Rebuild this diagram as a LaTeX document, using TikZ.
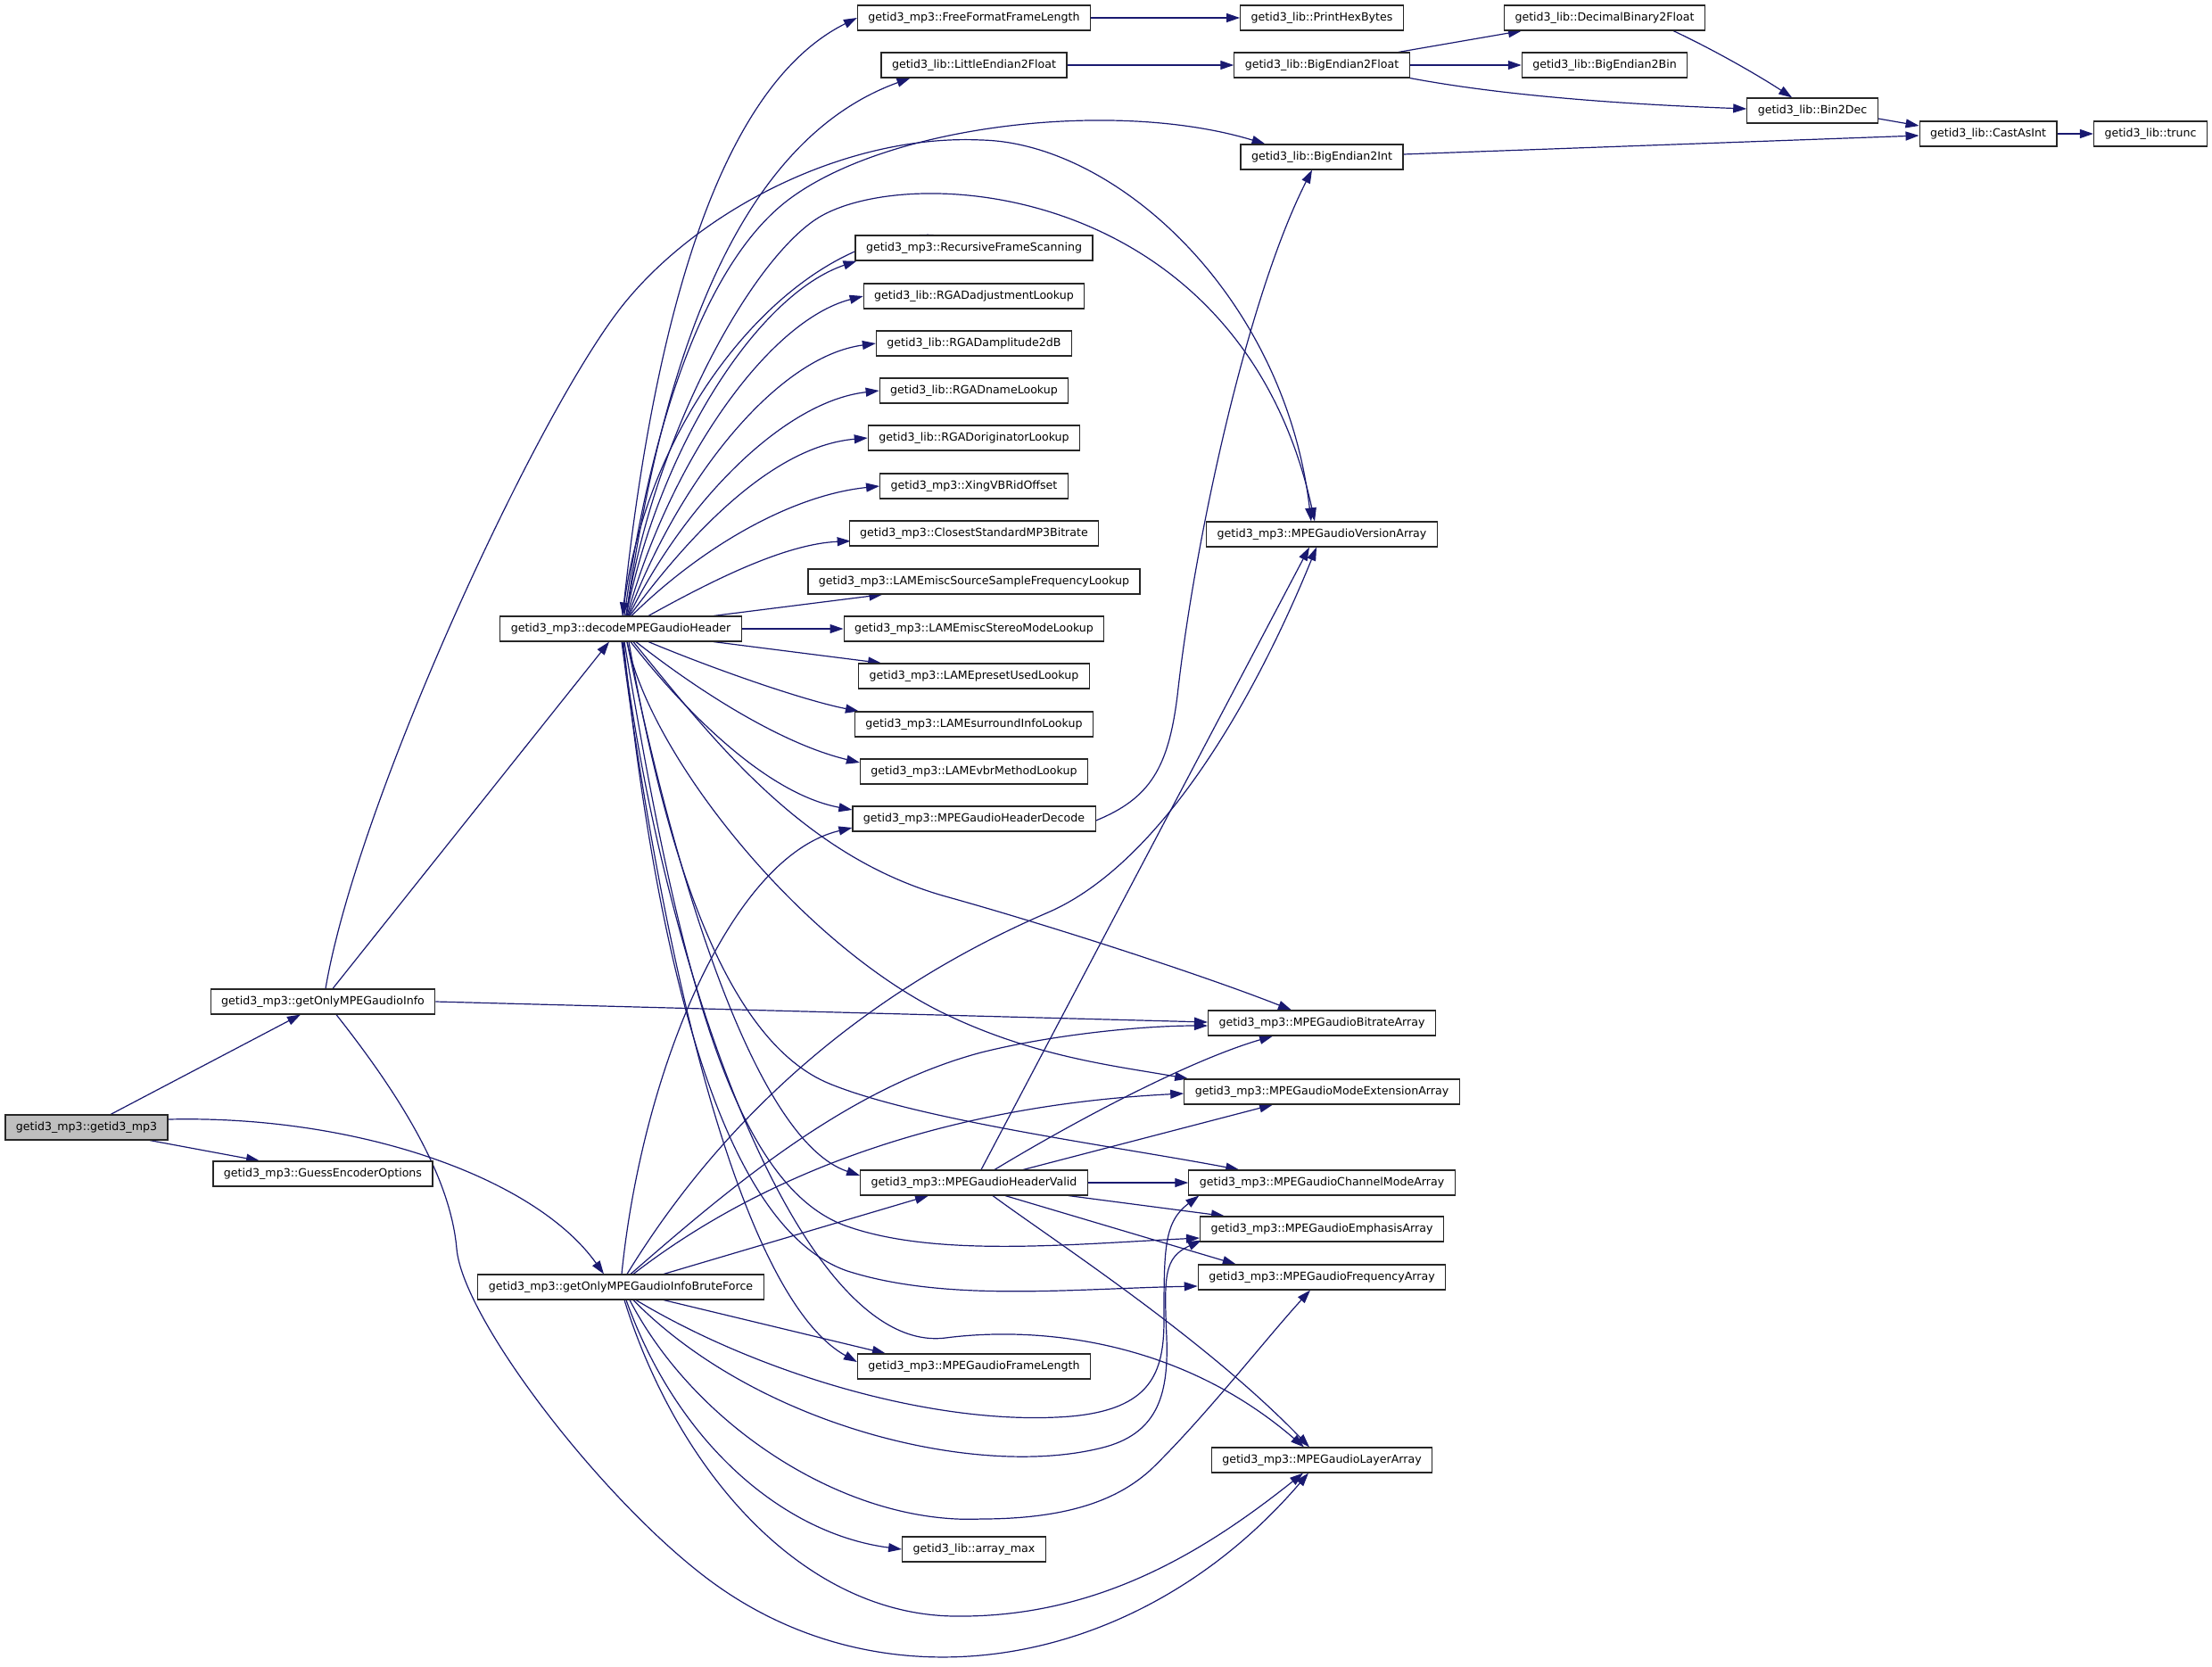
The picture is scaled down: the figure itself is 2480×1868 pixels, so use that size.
\documentclass[tikz,border=0pt]{standalone}
\usepackage{fontspec}
\setmainfont{DejaVu Sans}
\usetikzlibrary{arrows.meta,calc,backgrounds}
\definecolor{edgec}{HTML}{191970}
\definecolor{rootfill}{HTML}{BFBFBF}
\begin{document}
\begin{tikzpicture}[x=1pt,y=-1pt,
  box/.style={draw=black!85, line width=1.1pt, fill=white, rectangle, inner xsep=12pt, inner ysep=0pt,
    minimum height=28pt, font=\fontsize{12.6}{15}\selectfont, text height=9.5pt, text depth=3pt},
  cg/.style={draw=edgec, line width=1.2pt, -{Triangle[length=15pt,width=10pt]}}]
\useasboundingbox (0,0) rectangle (2480,1868);
% nodes
\node[box, fill=rootfill] (root) at (97,1264) {getid3\_mp3::getid3\_mp3};
\node[box] (getonly) at (362,1123) {getid3\_mp3::getOnlyMPEGaudioInfo};
\node[box] (guess) at (362,1316) {getid3\_mp3::GuessEncoderOptions};
\node[box] (dec) at (696,705) {getid3\_mp3::decodeMPEGaudioHeader};
\node[box] (brute) at (696,1443) {getid3\_mp3::getOnlyMPEGaudioInfoBruteForce};
\node[box] (ffl) at (1092,20) {getid3\_mp3::FreeFormatFrameLength};
\node[box] (le2f) at (1092,73) {getid3\_lib::LittleEndian2Float};
\node[box] (rfs) at (1092,278) {getid3\_mp3::RecursiveFrameScanning};
\node[box] (rgadadj) at (1092,332) {getid3\_lib::RGADadjustmentLookup};
\node[box] (rgadamp) at (1092,385) {getid3\_lib::RGADamplitude2dB};
\node[box] (rgadname) at (1092,438) {getid3\_lib::RGADnameLookup};
\node[box] (rgadorig) at (1092,491) {getid3\_lib::RGADoriginatorLookup};
\node[box] (xing) at (1092,545) {getid3\_mp3::XingVBRidOffset};
\node[box] (closest) at (1092,598) {getid3\_mp3::ClosestStandardMP3Bitrate};
\node[box] (lamesrc) at (1092,652) {getid3\_mp3::LAMEmiscSourceSampleFrequencyLookup};
\node[box] (lamestereo) at (1092,705) {getid3\_mp3::LAMEmiscStereoModeLookup};
\node[box] (lamepreset) at (1092,758) {getid3\_mp3::LAMEpresetUsedLookup};
\node[box] (lamesurr) at (1092,812) {getid3\_mp3::LAMEsurroundInfoLookup};
\node[box] (lamevbr) at (1092,865) {getid3\_mp3::LAMEvbrMethodLookup};
\node[box] (hdec) at (1092,918) {getid3\_mp3::MPEGaudioHeaderDecode};
\node[box] (hvalid) at (1092,1326) {getid3\_mp3::MPEGaudioHeaderValid};
\node[box] (framelen) at (1092,1532) {getid3\_mp3::MPEGaudioFrameLength};
\node[box] (arraymax) at (1092,1737) {getid3\_lib::array\_max};
\node[box] (phb) at (1482,20) {getid3\_lib::PrintHexBytes};
\node[box] (be2f) at (1482,73) {getid3\_lib::BigEndian2Float};
\node[box] (be2i) at (1482,176) {getid3\_lib::BigEndian2Int};
\node[box] (version) at (1482,599) {getid3\_mp3::MPEGaudioVersionArray};
\node[box] (bitrate) at (1482,1147) {getid3\_mp3::MPEGaudioBitrateArray};
\node[box] (modeext) at (1482,1224) {getid3\_mp3::MPEGaudioModeExtensionArray};
\node[box] (channel) at (1482,1326) {getid3\_mp3::MPEGaudioChannelModeArray};
\node[box] (emph) at (1482,1378) {getid3\_mp3::MPEGaudioEmphasisArray};
\node[box] (freq) at (1482,1432) {getid3\_mp3::MPEGaudioFrequencyArray};
\node[box] (layer) at (1482,1637) {getid3\_mp3::MPEGaudioLayerArray};
\node[box] (decbin) at (1799,20) {getid3\_lib::DecimalBinary2Float};
\node[box] (be2bin) at (1799,73) {getid3\_lib::BigEndian2Bin};
\node[box] (bin2dec) at (2032,124) {getid3\_lib::Bin2Dec};
\node[box] (castint) at (2229,150) {getid3\_lib::CastAsInt};
\node[box] (trunc) at (2411,150) {getid3\_lib::trunc};
\begin{pgfonlayer}{background}
% root
\draw[cg] ($(root.north)+(27,0)$) -- ($(getonly.south)+(-25,0)$);
\draw[cg] ($(root.south)+(71,0)$) -- ($(guess.north)+(-71,0)$);
\draw[cg] ($(root.east)+(0,-9)$) .. controls (400,1250) and (600,1320) .. ($(brute.north)+(-19,0)$);
% getOnlyMPEGaudioInfo
\draw[cg] ($(getonly.north)+(11,0)$) -- ($(dec.south)+(-13,0)$);
\draw[cg] (getonly.east) -- ($(bitrate.west)+(0,-1)$);
\draw[cg] ($(getonly.south)+(15,0)$) .. controls (450,1230) and (505,1320) .. (512,1400)
   .. controls (519,1480) and (680,1688) .. (800,1775)
   .. controls (1000,1920) and (1280,1870) .. ($(layer.south)+(-15,0)$);
\draw[cg] ($(getonly.north)+(3,0)$) .. controls (400,900) and (604,458) .. (700,340)
   .. controls (786,234) and (950,150) .. (1100,157)
   .. controls (1250,160) and (1440,330) .. ($(version.north)+(-12,0)$);
% decodeMPEGaudioHeader upward
\draw[cg] ($(dec.north)+(4,0)$) .. controls (730,470) and (792,297) .. (880,227)
   .. controls (990,140) and (1250,110) .. ($(be2i.north west)+(28,0)$);
\draw[cg] ($(dec.north)+(6,0)$) .. controls (730,500) and (835,301) .. (913,247)
   .. controls (1010,180) and (1390,200) .. ($(version.north)+(-8,0)$);
\draw[cg] ($(rfs.north west)+(88,0)$) .. controls (900,258) and (730,450) .. ($(dec.north)+(2,0)$);
\draw[cg] ($(dec.north)+(2,0)$) .. controls (730,380) and (800,100) .. (ffl.west);
\draw[cg] ($(dec.north)+(6,0)$) .. controls (740,420) and (820,160) .. ($(le2f.south west)+(33,0)$);
\draw[cg] ($(dec.north)+(6,0)$) .. controls (740,500) and (850,330) .. ($(rfs.south west)+(2,0)$);
\draw[cg] ($(dec.north)+(7,0)$) .. controls (750,520) and (860,360) .. (rgadadj.west);
\draw[cg] ($(dec.north)+(8,0)$) .. controls (760,540) and (870,400) .. (rgadamp.west);
\draw[cg] ($(dec.north)+(9,0)$) .. controls (770,560) and (880,450) .. (rgadname.west);
\draw[cg] ($(dec.north)+(10,0)$) .. controls (780,590) and (870,500) .. (rgadorig.west);
\draw[cg] ($(dec.north)+(12,0)$) .. controls (790,610) and (890,555) .. (xing.west);
\draw[cg] ($(dec.north)+(31,0)$) .. controls (800,650) and (880,610) .. ($(closest.south west)+(2,-6)$);
\draw[cg] ($(dec.north)+(104,0)$) -- ($(lamesrc.south west)+(84,0)$);
\draw[cg] (dec.east) -- (lamestereo.west);
% decodeMPEGaudioHeader downward
\draw[cg] ($(dec.south)+(104,0)$) -- ($(lamepreset.north west)+(26,0)$);
\draw[cg] ($(dec.south)+(31,0)$) .. controls (800,750) and (900,785) .. ($(lamesurr.north west)+(5,0)$);
\draw[cg] ($(dec.south)+(17,0)$) .. controls (790,780) and (880,835) .. ($(lamevbr.west)+(0,-10)$);
\draw[cg] ($(dec.south)+(11,0)$) .. controls (770,800) and (860,890) .. ($(hdec.west)+(0,-10)$);
\draw[cg] ($(dec.south)+(14,0)$) .. controls (800,830) and (900,960) .. (1060,1005)
   .. controls (1172,1036) and (1348,1093) .. ($(bitrate.north)+(-34,0)$);
\draw[cg] ($(dec.south)+(7,0)$) .. controls (730,850) and (900,1060) .. (1060,1137)
   .. controls (1160,1185) and (1250,1195) .. ($(modeext.north west)+(5,0)$);
\draw[cg] ($(dec.south)+(7,0)$) .. controls (760,1000) and (850,1280) .. ($(hvalid.west)+(0,-8)$);
\draw[cg] ($(dec.south)+(9,0)$) .. controls (750,980) and (820,1170) .. (930,1215)
   .. controls (1030,1256) and (1250,1285) .. ($(channel.north west)+(57,0)$);
\draw[cg] ($(dec.south)+(4,0)$) .. controls (760,1080) and (820,1330) .. (950,1375)
   .. controls (1050,1410) and (1200,1395) .. ($(emph.west)+(0,10)$);
\draw[cg] ($(dec.south)+(3,0)$) .. controls (740,1120) and (820,1380) .. (950,1425)
   .. controls (1060,1460) and (1200,1445) .. ($(freq.west)+(0,10)$);
\draw[cg] ($(dec.south)+(2,0)$) .. controls (745,1100) and (900,1520) .. (1060,1500)
   .. controls (1160,1487) and (1320,1500) .. ($(layer.north)+(-20,0)$);
\draw[cg] ($(dec.south)+(1,0)$) .. controls (750,1130) and (840,1460) .. ($(framelen.west)+(0,-5)$);
% BruteForce
\draw[cg] ($(brute.north)+(1,0)$) .. controls (720,1200) and (820,960) .. ($(hdec.west)+(0,10)$);
\draw[cg] ($(brute.north)+(7,0)$) .. controls (800,1270) and (950,1120) .. (1175,1023)
   .. controls (1295,971) and (1400,800) .. ($(version.south)+(-6,0)$);
\draw[cg] ($(brute.north)+(11,0)$) .. controls (820,1330) and (950,1220) .. (1100,1180)
   .. controls (1180,1160) and (1280,1150) .. ($(bitrate.west)+(0,3)$);
\draw[cg] ($(brute.north)+(14,0)$) .. controls (850,1320) and (1050,1240) .. ($(modeext.west)+(0,2)$);
\draw[cg] ($(brute.north)+(48,0)$) -- ($(hvalid.south)+(-51,0)$);
\draw[cg] ($(brute.south)+(48,0)$) -- ($(framelen.north west)+(32,0)$);
\draw[cg] ($(brute.south)+(17,0)$) .. controls (850,1540) and (1050,1600) .. (1200,1588)
   .. controls (1290,1580) and (1305,1540) .. (1305,1480)
   .. controls (1305,1400) and (1305,1370) .. ($(channel.south west)+(12,0)$);
\draw[cg] ($(brute.south)+(14,0)$) .. controls (850,1600) and (1100,1660) .. (1240,1622)
   .. controls (1300,1605) and (1310,1560) .. (1308,1500)
   .. controls (1305,1430) and (1305,1410) .. ($(emph.south west)+(2,-2)$);
\draw[cg] ($(brute.south)+(10,0)$) .. controls (780,1600) and (950,1710) .. (1100,1703)
   .. controls (1210,1703) and (1260,1675) .. (1290,1648)
   .. controls (1350,1590) and (1420,1500) .. ($(freq.south)+(-13,0)$);
\draw[cg] ($(brute.south)+(6,0)$) .. controls (760,1620) and (880,1720) .. (arraymax.west);
\draw[cg] ($(brute.south)+(4,0)$) .. controls (760,1650) and (900,1810) .. (1070,1812)
   .. controls (1230,1814) and (1350,1740) .. ($(layer.south)+(-21,0)$);
% MPEGaudioHeaderValid
\draw[cg] ($(hvalid.north)+(8,0)$) -- ($(version.south)+(-14,0)$);
\draw[cg] ($(hvalid.north)+(23,0)$) .. controls (1200,1260) and (1330,1190) .. ($(bitrate.south)+(-55,0)$);
\draw[cg] ($(hvalid.north)+(55,0)$) -- ($(modeext.south)+(-55,0)$);
\draw[cg] (hvalid.east) -- (channel.west);
\draw[cg] ($(hvalid.south east)+(-22,0)$) -- ($(emph.north west)+(28,0)$);
\draw[cg] ($(hvalid.south)+(35,0)$) -- ($(freq.north west)+(43,0)$);
\draw[cg] ($(hvalid.south)+(21,0)$) .. controls (1180,1390) and (1350,1500) .. ($(layer.north)+(-14,0)$);
% MPEGaudioHeaderDecode
\draw[cg] ($(hdec.east)+(0,2)$) .. controls (1290,895) and (1310,860) .. (1320,780)
   .. controls (1340,600) and (1400,330) .. ($(be2i.south)+(-11,0)$);
% top right chain
\draw[cg] (ffl.east) -- (phb.west);
\draw[cg] (le2f.east) -- (be2f.west);
\draw[cg] ($(be2f.north east)+(-13,0)$) -- ($(decbin.south west)+(20,0)$);
\draw[cg] (be2f.east) -- (be2bin.west);
\draw[cg] (be2f.south east) .. controls (1700,110) and (1850,118) .. ($(bin2dec.west)+(0,-2)$);
\draw[cg] ($(decbin.south east)+(-36,0)$) .. controls (1930,60) and (1980,90) .. ($(bin2dec.north west)+(51,0)$);
\draw[cg] ($(bin2dec.east)+(0,9)$) -- ($(castint.west)+(0,-9)$);
\draw[cg] ($(be2i.east)+(0,-3)$) -- ($(castint.west)+(0,2)$);
\draw[cg] (castint.east) -- (trunc.west);
\end{pgfonlayer}
\end{tikzpicture}
\end{document}
